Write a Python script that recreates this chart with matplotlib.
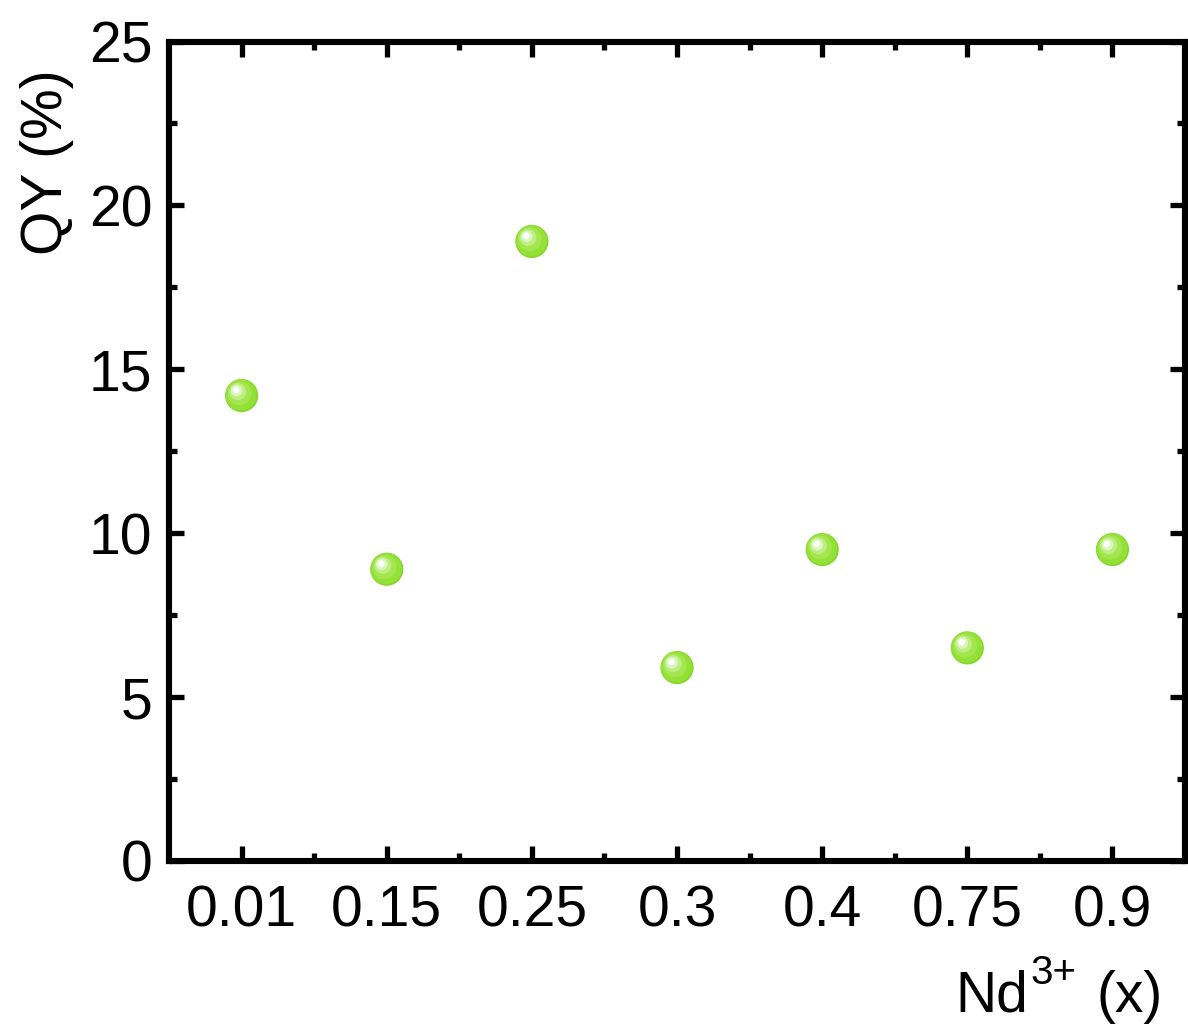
import matplotlib.pyplot as plt
import matplotlib.transforms as mtransforms
from matplotlib.ticker import MultipleLocator, FixedLocator

plt.rcParams['font.family'] = ['Liberation Sans', 'DejaVu Sans']

# Nd3+ content and quantum yield
nd_labels = ['0.01', '0.15', '0.25', '0.3', '0.4', '0.75', '0.9']
qy = [14.2, 8.9, 18.9, 5.9, 9.5, 6.5, 9.5]

fig = plt.figure(figsize=(11.88, 10.28), dpi=100)
ax = fig.add_axes([0.1423, 0.1625, 0.8552, 0.7971])

pos = list(range(len(nd_labels)))

# sphere-like markers: base disc plus lighter layers shifted up-left
layers = [
    (570, '#86d62a', 0.0, 0.0),
    (500, '#93e036', -0.4, 0.4),
    (300, '#a3e650', -1.6, 1.6),
    (150, '#bdee82', -2.8, 2.8),
    (70, '#dcf6c0', -3.6, 3.6),
    (22, '#ffffff', -4.0, 4.0),
]
for size, col, dx, dy in layers:
    off = mtransforms.ScaledTranslation(dx / 72, dy / 72, fig.dpi_scale_trans)
    ax.scatter(pos, qy, s=size, color=col, edgecolors='none',
               transform=ax.transData + off, zorder=3, clip_on=False)

ax.set_xlim(-0.5, 6.5)
ax.set_ylim(0, 25)
ax.set_xticks(pos)
ax.set_xticklabels(nd_labels)
ax.xaxis.set_minor_locator(FixedLocator([p + 0.5 for p in pos[:-1]]))
ax.yaxis.set_major_locator(MultipleLocator(5))
ax.yaxis.set_minor_locator(MultipleLocator(2.5))

for s in ax.spines.values():
    s.set_linewidth(4.4)

ax.tick_params(which='both', direction='in', top=True, right=True, width=3.8)
ax.tick_params(which='major', length=11, labelsize=41, pad=12)
ax.tick_params(which='minor', length=6)
ax.tick_params(axis='x', which='major', pad=17)

ax.set_ylabel('QY (%)', fontsize=41)
ax.yaxis.set_label_coords(-0.094, 0.853)

# x label built from pieces so the superscript sits tight against "Nd"
nd = fig.text(0.8039, 0.0156, 'Nd', fontsize=41, ha='left', va='baseline')
sup = ax.annotate('3+', xy=(1.0, 0.0428), xycoords=(nd, 'figure fraction'),
                  xytext=(1.5, 0), textcoords='offset points',
                  fontsize=29, ha='left', va='baseline')
ax.annotate('(x)', xy=(1.0, 0.0156), xycoords=(sup, 'figure fraction'),
            xytext=(15, 0), textcoords='offset points',
            fontsize=41, ha='left', va='baseline')

fig.savefig('out.png', dpi=100)
